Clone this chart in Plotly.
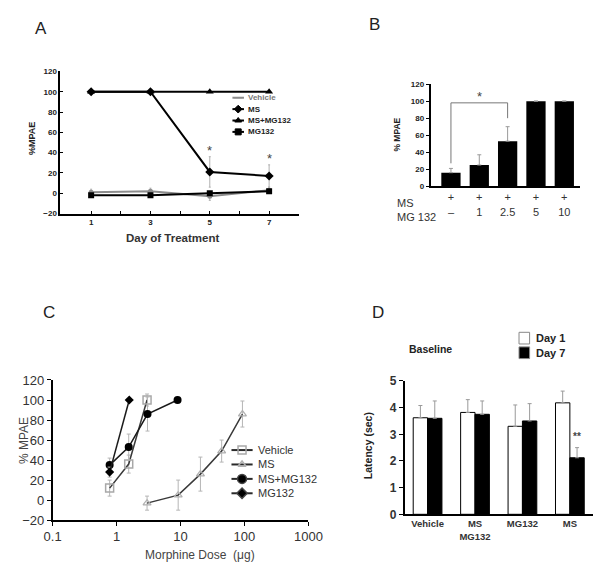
import plotly.graph_objects as go

W, H = 601, 562


def fx(p):
    return p / W


def fy(p):
    return 1 - p / H


FONT = "Arial, Liberation Sans, sans-serif"
INK = "#222222"
GRAY_ERR = "#9a9a9a"

# ---------------- Panel A data ----------------
a_days = [1, 3, 5, 7]
a_vehicle = [1, 2, -3, 3]
a_vehicle_err = [3, 3, 4, 3]
a_ms = [100, 100, 21, 17]
a_ms_err = [0, 0, 15, 11]
a_msmg = [100, 100, 100, 100]
a_mg = [-2, -2, 0, 2]
a_xtickvals = [1, 2, 3, 4, 5, 6, 7, 8]
a_xticktext = ["1", "", "3", "", "5", "", "7", ""]
a_star_days = [5, 7]
a_star_y = [42, 34]

# ---------------- Panel B data ----------------
b_pos = [0, 1, 2, 3, 4]
b_ms_labels = ["+", "+", "+", "+", "+"]
b_mg_labels = ["–", "1", "2.5", "5", "10"]
b_values = [16, 25, 53, 100, 100]
b_err = [5, 12, 17, 0, 0]
b_bracket_x = [0, 0, 2, 2]
b_bracket_y = [27, 98, 98, 80]
b_star = (1, 106)

# ---------------- Panel C data ----------------
c_vehicle_x = [0.78, 1.55, 3.0]
c_vehicle_y = [12, 36, 100]
c_vehicle_err = [8, 9, 6]
c_ms_x = [3.0, 9.2, 20.5, 44, 93]
c_ms_y = [-3, 5, 26, 49, 86]
c_ms_err = [7, 15, 17, 11, 13]
c_msmg_x = [0.78, 1.55, 3.05, 9.0]
c_msmg_y = [35, 53, 86, 100]
c_msmg_err = [7, 13, 17, 0]
c_mg_x = [0.78, 1.58]
c_mg_y = [28, 100]
c_mg_err = [5, 0]

# ---------------- Panel D data ----------------
d_groups = ["Vehicle", "MS<br>MG132", "MG132", "MS"]
d_pos = [0, 1, 2, 3]
d_day1 = [3.62, 3.82, 3.30, 4.18]
d_day1_err = [0.46, 0.48, 0.80, 0.44]
d_day7 = [3.60, 3.75, 3.50, 2.12]
d_day7_err = [0.65, 0.50, 0.65, 0.38]
d_star = (3, 2.9)

fig = go.Figure()

# ---- Panel A traces ----
fig.add_trace(go.Scatter(x=a_days, y=a_vehicle, mode="lines+markers", xaxis="x", yaxis="y",
                         line=dict(color="#8c8c8c", width=2),
                         marker=dict(symbol="circle", size=5, color="#8c8c8c"),
                         error_y=dict(type="data", array=a_vehicle_err, color="#b0b0b0", thickness=1, width=1)))
fig.add_trace(go.Scatter(x=a_days, y=a_mg, mode="lines+markers", xaxis="x", yaxis="y",
                         line=dict(color="black", width=2),
                         marker=dict(symbol="square", size=6, color="black")))
fig.add_trace(go.Scatter(x=a_days, y=a_msmg, mode="lines+markers", xaxis="x", yaxis="y",
                         line=dict(color="black", width=2),
                         marker=dict(symbol="triangle-up", size=7, color="black")))
fig.add_trace(go.Scatter(x=a_days, y=a_ms, mode="lines+markers", xaxis="x", yaxis="y",
                         line=dict(color="black", width=2),
                         marker=dict(symbol="diamond", size=7, color="black"),
                         error_y=dict(type="data", array=a_ms_err, color="#b0b0b0", thickness=1, width=1)))

# ---- Panel B traces ----
fig.add_trace(go.Bar(x=b_pos, y=b_values, xaxis="x2", yaxis="y2", width=0.68,
                     marker=dict(color="black", line=dict(width=0)),
                     error_y=dict(type="data", array=b_err, arrayminus=[0] * 5, symmetric=False,
                                  color=GRAY_ERR, thickness=1, width=2)))
fig.add_trace(go.Scatter(x=b_bracket_x, y=b_bracket_y, mode="lines", xaxis="x2", yaxis="y2",
                         line=dict(color="#777777", width=1)))

# ---- Panel C traces ----
err_c = dict(type="data", color="#b5b5b5", thickness=1, width=2)
fig.add_trace(go.Scatter(x=c_vehicle_x, y=c_vehicle_y, mode="lines+markers", xaxis="x3", yaxis="y3",
                         line=dict(color="#3a3a3a", width=1.5),
                         marker=dict(symbol="square-open", size=8, color="#a8a8a8", line=dict(width=1.5)),
                         error_y=dict(err_c, array=c_vehicle_err)))
fig.add_trace(go.Scatter(x=c_ms_x, y=c_ms_y, mode="lines+markers", xaxis="x3", yaxis="y3",
                         line=dict(color="#3a3a3a", width=1.5),
                         marker=dict(symbol="triangle-up-open", size=7, color="#b0b0b0", line=dict(width=1.2)),
                         error_y=dict(err_c, array=c_ms_err)))
fig.add_trace(go.Scatter(x=c_msmg_x, y=c_msmg_y, mode="lines+markers", xaxis="x3", yaxis="y3",
                         line=dict(color="#1a1a1a", width=1.5),
                         marker=dict(symbol="circle", size=8, color="black"),
                         error_y=dict(err_c, array=c_msmg_err)))
fig.add_trace(go.Scatter(x=c_mg_x, y=c_mg_y, mode="lines+markers", xaxis="x3", yaxis="y3",
                         line=dict(color="#1a1a1a", width=1.5),
                         marker=dict(symbol="diamond", size=7, color="black"),
                         error_y=dict(err_c, array=c_mg_err)))

# ---- Panel D traces ----
fig.add_trace(go.Bar(x=d_pos, y=d_day1, xaxis="x4", yaxis="y4", width=0.303, offset=-0.303,
                     marker=dict(color="white", line=dict(color="black", width=1)),
                     error_y=dict(type="data", array=d_day1_err, arrayminus=[0] * 4, symmetric=False,
                                  color=GRAY_ERR, thickness=1, width=2)))
fig.add_trace(go.Bar(x=d_pos, y=d_day7, xaxis="x4", yaxis="y4", width=0.303, offset=0,
                     marker=dict(color="black", line=dict(color="black", width=1)),
                     error_y=dict(type="data", array=d_day7_err, arrayminus=[0] * 4, symmetric=False,
                                  color=GRAY_ERR, thickness=1, width=2)))

# ---- custom legends on a pixel overlay axis ----
legA_names = ["Vehicle", "MS", "MS+MG132", "MG132"]
legA_sym = ["line-ew", "diamond", "triangle-up", "square"]
legA_col = ["#8c8c8c", "black", "black", "black"]
legA_y0, legA_dy = 85, 11.7
for i, (n, s, c) in enumerate(zip(legA_names, legA_sym, legA_col)):
    yy = legA_y0 + i * legA_dy
    fig.add_trace(go.Scatter(x=[224, 236], y=[yy, yy], mode="lines", xaxis="x5", yaxis="y5",
                             line=dict(color=c, width=2)))
    fig.add_trace(go.Scatter(x=[230], y=[yy], mode="markers", xaxis="x5", yaxis="y5",
                             marker=dict(symbol=s, size=6, color=c, line=dict(color=c, width=1))))

legC_names = ["Vehicle", "MS", "MS+MG132", "MG132"]
legC_sym = ["square-open", "triangle-up-open", "circle", "diamond"]
legC_col = ["#a8a8a8", "#b0b0b0", "black", "black"]
legC_size = [8, 7, 9, 8]
legC_y0, legC_dy = 447, 14.8
for i, (n, s, c, sz) in enumerate(zip(legC_names, legC_sym, legC_col, legC_size)):
    yy = legC_y0 + i * legC_dy
    fig.add_trace(go.Scatter(x=[223, 245], y=[yy, yy], mode="lines", xaxis="x5", yaxis="y5",
                             line=dict(color="#2a2a2a", width=2)))
    fig.add_trace(go.Scatter(x=[234], y=[yy], mode="markers", xaxis="x5", yaxis="y5",
                             marker=dict(symbol=s, size=sz, color=c, line=dict(width=1.5))))

annotations = []
shapes = []


def ann(x, y, text, size, color=INK, weight="normal", xanchor="center", yanchor="middle", angle=0):
    annotations.append(dict(x=fx(x), y=fy(y), xref="paper", yref="paper", text=text, showarrow=False,
                            xanchor=xanchor, yanchor=yanchor, textangle=angle,
                            font=dict(family=FONT, size=size, color=color, weight=weight)))


for i, n in enumerate(legA_names):
    ann(238, legA_y0 + i * legA_dy, n, 8, color="#777777" if i == 0 else INK, weight="bold", xanchor="left")
for i, n in enumerate(legC_names):
    ann(248, legC_y0 + i * legC_dy, n, 11, color="#333333", xanchor="left")

# Legend D
legD_names = ["Day 1", "Day 7"]
legD_fill = ["white", "black"]
legD_y0, legD_dy = 332, 15
for i, (n, f) in enumerate(zip(legD_names, legD_fill)):
    yy = legD_y0 + i * legD_dy
    shapes.append(dict(type="rect", xref="paper", yref="paper", x0=fx(522), x1=fx(533),
                       y0=fy(yy + 6), y1=fy(yy - 6), fillcolor=f, line=dict(color="#888888", width=1)))
    ann(538, yy, n, 11, weight="bold", xanchor="left")

# Panel letters
ann(25, 14, "A", 17)
ann(372, 10, "B", 17)
ann(33, 306, "C", 17)
ann(375, 306, "D", 17)

# Axis titles
ann(162, 229, "Day of Treatment", 11.5, color="#333333", weight="bold")
ann(15, 127, "%MPAE", 9, weight="bold", angle=-90)
ann(395, 123, "% MPAE", 8.5, weight="bold", angle=-90)
ann(190, 555, "Morphine Dose  (μg)", 12, color="#444444")
ann(8, 437, "% MPAE", 12, color="#444444", angle=-90)
ann(365, 443, "Latency (sec)", 10.5, weight="bold", angle=-90)
ann(430, 343, "Baseline", 10.5, weight="bold")

# B row labels
ann(393, 193, "MS", 11, color="#333333", xanchor="left")
ann(393, 208, "MG 132", 11, color="#333333", xanchor="left")

# Stars (data coords)
for d, v in zip(a_star_days, a_star_y):
    annotations.append(dict(x=d, y=v, xref="x", yref="y", text="*", showarrow=False,
                            font=dict(family=FONT, size=13, color="#444444")))
annotations.append(dict(x=b_star[0], y=b_star[1], xref="x2", yref="y2", text="*", showarrow=False,
                        font=dict(family=FONT, size=13, color="#444444")))
annotations.append(dict(x=d_star[0] + 0.15, y=d_star[1], xref="x4", yref="y4", text="**", showarrow=False,
                        font=dict(family=FONT, size=10, color="#444444", weight="bold")))

axis_common = dict(showline=True, linecolor="black", linewidth=1.5, showgrid=False, zeroline=False,
                   tickcolor="black")

fig.update_layout(
    width=W, height=H, margin=dict(l=0, r=0, t=0, b=0),
    paper_bgcolor="white", plot_bgcolor="rgba(0,0,0,0)", showlegend=False, barmode="overlay",
    annotations=annotations, shapes=shapes,
    xaxis=dict(axis_common, domain=[fx(45), fx(293)], range=[-0.04, 8.0], anchor="y",
               tickmode="array", tickvals=a_xtickvals, ticktext=a_xticktext,
               ticks="inside", ticklen=3, tickfont=dict(family=FONT, size=8, color=INK, weight="bold")),
    yaxis=dict(axis_common, domain=[fy(204), fy(58)], range=[-20, 120], dtick=20, anchor="x",
               ticks="inside", ticklen=3, tickfont=dict(family=FONT, size=8, color=INK, weight="bold")),
    xaxis2=dict(axis_common, domain=[fx(430), fx(585)], range=[-0.72, 4.54], anchor="y2",
                tickmode="array", tickvals=b_pos,
                ticktext=[m + "<br>" + g for m, g in zip(b_ms_labels, b_mg_labels)],
                ticks="", tickfont=dict(family=FONT, size=11, color="#333333")),
    yaxis2=dict(axis_common, domain=[fy(176), fy(71)], range=[0, 120], dtick=20, anchor="x2",
                ticks="outside", ticklen=3, tickfont=dict(family=FONT, size=8, color=INK, weight="bold")),
    xaxis3=dict(axis_common, type="log", domain=[fx(37), fx(303)], range=[-1, 3], anchor="y3",
                tickmode="array", tickvals=[0.1, 1, 10, 100, 1000], ticktext=["0.1", "1", "10", "100", "1000"],
                ticks="outside", ticklen=4, tickfont=dict(family=FONT, size=13, color="#333333")),
    yaxis3=dict(axis_common, domain=[fy(519), fy(375)], range=[-20, 120], dtick=20, anchor="x3",
                ticks="outside", ticklen=4, tickfont=dict(family=FONT, size=13, color="#333333")),
    xaxis4=dict(axis_common, domain=[fx(403), 1.0], range=[-0.485, 3.53], anchor="y4",
                tickmode="array", tickvals=d_pos, ticktext=d_groups,
                ticks="", tickfont=dict(family=FONT, size=9.5, color="#333333", weight="bold")),
    yaxis4=dict(axis_common, domain=[fy(513), fy(376)], range=[0, 5], dtick=1, anchor="x4",
                ticks="outside", ticklen=4, tickfont=dict(family=FONT, size=12, color="#333333", weight="bold")),
    xaxis5=dict(domain=[0, 1], range=[0, W], visible=False, anchor="y5", fixedrange=True),
    yaxis5=dict(domain=[0, 1], range=[H, 0], visible=False, anchor="x5", fixedrange=True),
)

fig.write_html("out.html")
